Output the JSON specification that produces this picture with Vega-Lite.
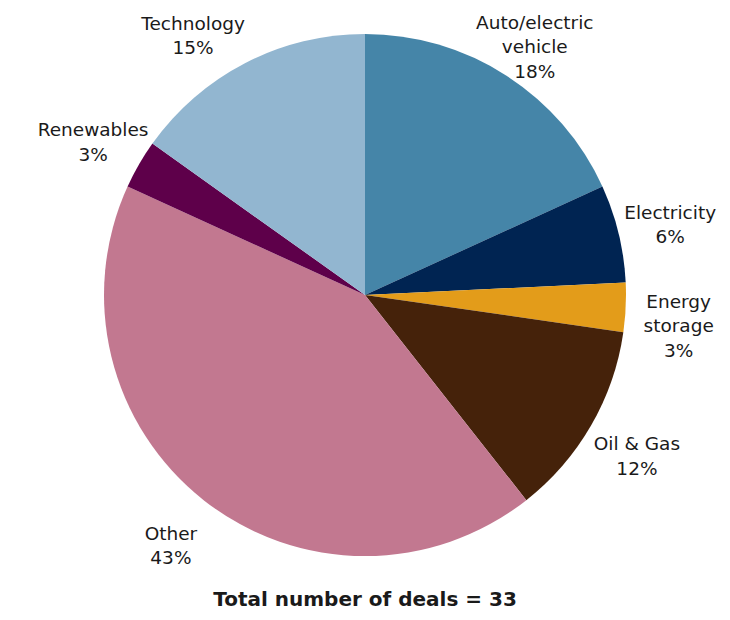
{
  "$schema": "https://vega.github.io/schema/vega-lite/v6.json",
  "width": 720,
  "height": 590,
  "autosize": {"type": "none"},
  "padding": {"left": 5, "right": 5, "top": 0, "bottom": 30},
  "background": "white",
  "config": {"view": {"stroke": null}},
  "title": {
    "text": "Total number of deals = 33",
    "orient": "bottom",
    "anchor": "middle",
    "offset": 0,
    "font": "DejaVu Sans",
    "fontSize": 20,
    "fontWeight": "bold",
    "color": "#1a1a1a"
  },
  "data": {
    "values": [
      {"idx": 1, "sector": "Auto/electric vehicle", "deals": 6, "label": "Auto/electric\nvehicle\n18%"},
      {"idx": 2, "sector": "Electricity", "deals": 2, "label": "Electricity\n6%"},
      {"idx": 3, "sector": "Energy storage", "deals": 1, "label": "Energy\nstorage\n3%"},
      {"idx": 4, "sector": "Oil & Gas", "deals": 4, "label": "Oil & Gas\n12%"},
      {"idx": 5, "sector": "Other", "deals": 14, "label": "Other\n43%"},
      {"idx": 6, "sector": "Renewables", "deals": 1, "label": "Renewables\n3%"},
      {"idx": 7, "sector": "Technology", "deals": 5, "label": "Technology\n15%"}
    ]
  },
  "encoding": {
    "theta": {"field": "deals", "type": "quantitative", "stack": true},
    "order": {"field": "idx", "type": "quantitative"}
  },
  "layer": [
    {
      "mark": {"type": "arc", "outerRadius": 261},
      "encoding": {
        "color": {
          "field": "sector",
          "type": "nominal",
          "legend": null,
          "sort": null,
          "scale": {
            "domain": ["Auto/electric vehicle", "Electricity", "Energy storage", "Oil & Gas", "Other", "Renewables", "Technology"],
            "range": ["#4585a8", "#002452", "#e39c1a", "#45220a", "#c27890", "#5e004a", "#92b6d0"]
          }
        }
      }
    },
    {
      "mark": {
        "type": "text",
        "radius": 314,
        "dy": {"expr": "datum.sector === 'Technology' ? 8 : -8"},
        "dx": {"expr": "datum.sector === 'Technology' ? -28 : 0"},
        "lineBreak": "\n",
        "font": "DejaVu Sans",
        "fontSize": 18.5,
        "lineHeight": 24.5,
        "align": "center",
        "baseline": "middle",
        "color": "#1a1a1a"
      },
      "encoding": {
        "text": {"field": "label", "type": "nominal"}
      }
    }
  ]
}
